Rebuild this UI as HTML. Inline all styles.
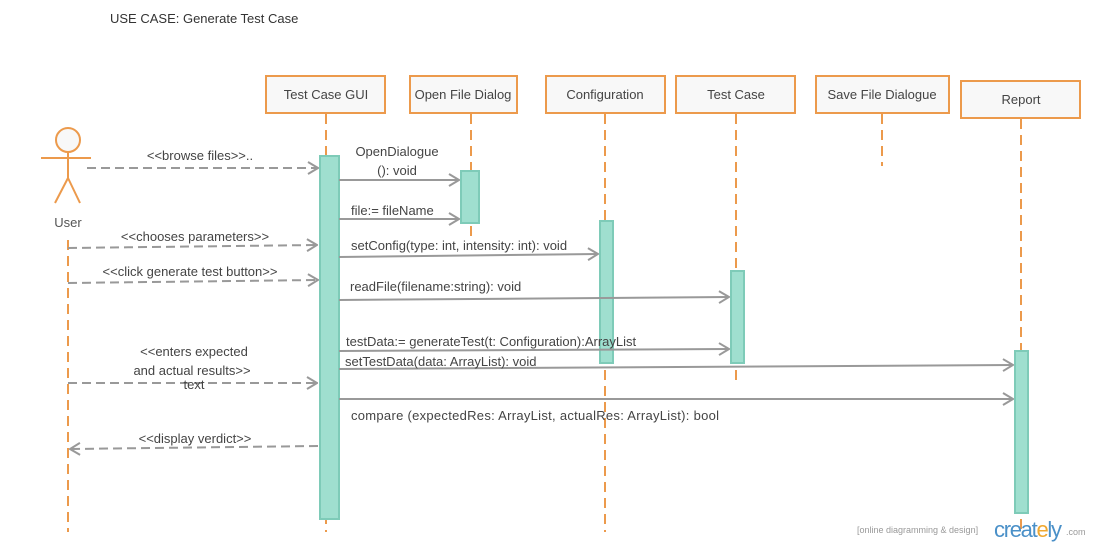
<!DOCTYPE html>
<html><head><meta charset="utf-8"><style>
html,body{margin:0;padding:0;background:#fff;}
svg{display:block;font-family:"Liberation Sans",sans-serif;}
</style></head><body>
<svg width="1095" height="545" viewBox="0 0 1095 545" xmlns="http://www.w3.org/2000/svg">
<defs>
<marker id="a" markerWidth="12" markerHeight="14" refX="11" refY="7" orient="auto" markerUnits="userSpaceOnUse">
<path d="M1,1 L11,7 L1,13" fill="none" stroke="#999" stroke-width="2"/></marker>
</defs>
<text x="110" y="23" font-size="13" fill="#333">USE CASE: Generate Test Case</text>
<g fill="#f8f8f8" stroke="#ec9a4c" stroke-width="2">
<rect x="266" y="76" width="119" height="37"/>
<rect x="410" y="76" width="107" height="37"/>
<rect x="546" y="76" width="119" height="37"/>
<rect x="676" y="76" width="119" height="37"/>
<rect x="816" y="76" width="133" height="37"/>
<rect x="961" y="81" width="119" height="37"/>
</g>
<g font-size="13" fill="#444" text-anchor="middle">
<text x="326" y="99">Test Case GUI</text>
<text x="463" y="99">Open File Dialog</text>
<text x="605" y="99">Configuration</text>
<text x="736" y="99">Test Case</text>
<text x="882" y="99">Save File Dialogue</text>
<text x="1021" y="104">Report</text>
</g>
<g stroke="#ec9a4c" stroke-width="2" stroke-dasharray="10,6" fill="none">
<line x1="326" y1="114" x2="326" y2="532"/>
<line x1="471" y1="114" x2="471" y2="242"/>
<line x1="605" y1="114" x2="605" y2="532"/>
<line x1="736" y1="114" x2="736" y2="386"/>
<line x1="882" y1="114" x2="882" y2="166"/>
<line x1="1021" y1="119" x2="1021" y2="530"/>
<line x1="68" y1="240" x2="68" y2="532"/>
</g>
<g fill="#9fdfcf" stroke="#7ecbb8" stroke-width="2">
<rect x="320" y="156" width="19" height="363"/>
<rect x="461" y="171" width="18" height="52"/>
<rect x="600" y="221" width="13" height="142"/>
<rect x="731" y="271" width="13" height="92"/>
<rect x="1015" y="351" width="13" height="162"/>
</g>
<g stroke="#ec9a4c" stroke-width="2" fill="#f8f8f8">
<circle cx="68" cy="140" r="12"/>
<line x1="41" y1="158" x2="91" y2="158"/>
<line x1="68" y1="152" x2="68" y2="178"/>
<line x1="68" y1="178" x2="55" y2="203"/>
<line x1="68" y1="178" x2="80" y2="203"/>
</g>
<text x="68" y="227" font-size="13" fill="#555" text-anchor="middle">User</text>
<g stroke="#999" stroke-width="2" fill="none" marker-end="url(#a)">
<line x1="87" y1="168" x2="318" y2="168" stroke-dasharray="9,5"/>
<line x1="339" y1="180" x2="459" y2="180"/>
<line x1="339" y1="219" x2="459" y2="219"/>
<line x1="68" y1="248" x2="317" y2="245" stroke-dasharray="9,5"/>
<line x1="339" y1="257" x2="598" y2="254"/>
<line x1="68" y1="283" x2="318" y2="280" stroke-dasharray="9,5"/>
<line x1="339" y1="300" x2="729" y2="297"/>
<line x1="339" y1="351" x2="729" y2="349"/>
<line x1="339" y1="369" x2="1013" y2="365"/>
<line x1="68" y1="383" x2="317" y2="383" stroke-dasharray="9,5"/>
<line x1="339" y1="399" x2="1013" y2="399"/>
<line x1="318" y1="446" x2="70" y2="449" stroke-dasharray="9,5"/>
</g>
<g font-size="13" fill="#444">
<text x="200" y="160" text-anchor="middle">&lt;&lt;browse files&gt;&gt;..</text>
<text x="397" y="156" text-anchor="middle">OpenDialogue</text>
<text x="397" y="175" text-anchor="middle">(): void</text>
<text x="351" y="215">file:= fileName</text>
<text x="195" y="241" text-anchor="middle">&lt;&lt;chooses parameters&gt;&gt;</text>
<text x="351" y="250">setConfig(type: int, intensity: int): void</text>
<text x="190" y="276" text-anchor="middle">&lt;&lt;click generate test button&gt;&gt;</text>
<text x="350" y="291">readFile(filename:string): void</text>
<text x="346" y="346">testData:= generateTest(t: Configuration):ArrayList</text>
<text x="345" y="366">setTestData(data: ArrayList): void</text>
<text x="194" y="356" text-anchor="middle">&lt;&lt;enters expected</text>
<text x="192" y="375" text-anchor="middle">and actual results&gt;&gt;</text>
<text x="194" y="389" text-anchor="middle">text</text>
<text x="351" y="420" textLength="368">compare (expectedRes: ArrayList, actualRes: ArrayList): bool</text>
<text x="195" y="443" text-anchor="middle">&lt;&lt;display verdict&gt;&gt;</text>
</g>
<text x="857" y="533" font-size="9" fill="#999">[online diagramming &amp; design]</text>
<text x="994" y="537" font-size="22" fill="#4a90c8" textLength="68">creat<tspan fill="#f0a830">e</tspan>ly</text>
<text x="1066" y="535" font-size="9" fill="#999">.com</text>
</svg>
</body></html>
